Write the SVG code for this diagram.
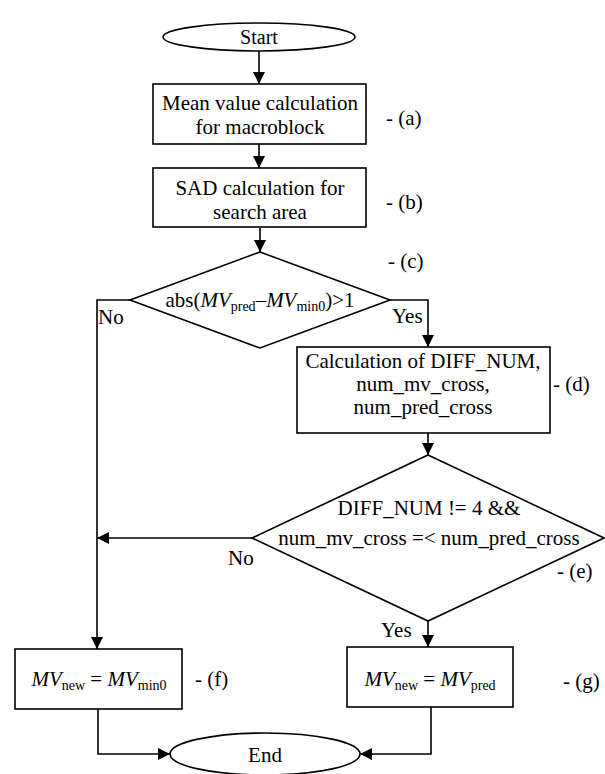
<svg xmlns="http://www.w3.org/2000/svg" width="605" height="774" viewBox="0 0 605 774">
<style>
.s{fill:#fff;stroke:#000;stroke-width:1.6}
.t{font-family:"Liberation Serif","Times New Roman",serif;font-size:21px;fill:#000}
.c{text-anchor:middle}
.i{font-style:italic}
.sub{font-size:14px}
.e{fill:none;stroke:#000;stroke-width:1.6}
</style>
<defs>
<marker id="ah" viewBox="0 0 12 12" refX="12" refY="6" markerWidth="12" markerHeight="13" markerUnits="userSpaceOnUse" orient="auto">
<path d="M0,0 L12,6 L0,12 z" fill="#000"/>
</marker>
</defs>
<rect width="605" height="774" fill="#fff"/>
<g id="connectors">
<path class="e" d="M259,51 V84" marker-end="url(#ah)"/>
<path class="e" d="M259,144 V168" marker-end="url(#ah)"/>
<path class="e" d="M260,228 V252" marker-end="url(#ah)"/>
<path class="e" d="M130,300 H97 V649" marker-end="url(#ah)"/>
<path class="e" d="M390,300 H428 V347" marker-end="url(#ah)"/>
<path class="e" d="M428,433 V455" marker-end="url(#ah)"/>
<path class="e" d="M252,538 H97" marker-end="url(#ah)"/>
<path class="e" d="M428,621 V647" marker-end="url(#ah)"/>
<path class="e" d="M98,709 V754 H170" marker-end="url(#ah)"/>
<path class="e" d="M431,707 V754 H360" marker-end="url(#ah)"/>
<text class="t" x="98" y="324">No</text>
<text class="t" x="392" y="323">Yes</text>
<text class="t" x="228" y="565">No</text>
<text class="t" x="381" y="637">Yes</text>
</g>
<g id="start">
<ellipse class="s" cx="259" cy="37" rx="96" ry="14"/>
<text class="t c" x="259" y="44" style="font-size:20px">Start</text>
</g>
<g id="a">
<rect class="s" x="153" y="84" width="213" height="60"/>
<text class="t c" x="260" y="110">Mean value calculation</text>
<text class="t c" x="260" y="134">for macroblock</text>
<text class="t" x="386" y="125">- (a)</text>
</g>
<g id="b">
<rect class="s" x="153" y="168" width="213" height="59"/>
<text class="t c" x="260" y="195">SAD calculation for</text>
<text class="t c" x="260" y="219">search area</text>
<text class="t" x="386" y="209">- (b)</text>
</g>
<g id="c">
<polygon class="s" points="260,252 390,300 260,348 130,300"/>
<text class="t c" x="260" y="307">abs(<tspan class="i">MV</tspan><tspan class="sub" dy="4">pred</tspan><tspan dy="-4">–</tspan><tspan class="i">MV</tspan><tspan class="sub" dy="4">min0</tspan><tspan dy="-4">)&gt;1</tspan></text>
<text class="t" x="388" y="268">- (c)</text>
</g>
<g id="d">
<rect class="s" x="297" y="347" width="253" height="86"/>
<text class="t c" x="423" y="368">Calculation of DIFF_NUM,</text>
<text class="t c" x="423" y="391">num_mv_cross,</text>
<text class="t c" x="423" y="414">num_pred_cross</text>
<text class="t" x="553" y="391">- (d)</text>
</g>
<g id="e">
<polygon class="s" points="428,455 604,538 428,621 252,538"/>
<text class="t c" x="429" y="515">DIFF_NUM != 4 &amp;&amp;</text>
<text class="t c" x="429" y="545">num_mv_cross =&lt; num_pred_cross</text>
<text class="t" x="557" y="578">- (e)</text>
</g>
<g id="f">
<rect class="s" x="15" y="649" width="167" height="60"/>
<text class="t c" x="99" y="686"><tspan class="i">MV</tspan><tspan class="sub" dy="4">new</tspan><tspan dy="-4"> = </tspan><tspan class="i">MV</tspan><tspan class="sub" dy="4">min0</tspan></text>
<text class="t" x="195" y="686">- (f)</text>
</g>
<g id="g">
<rect class="s" x="347" y="647" width="166" height="60"/>
<text class="t c" x="430" y="686"><tspan class="i">MV</tspan><tspan class="sub" dy="4">new</tspan><tspan dy="-4"> = </tspan><tspan class="i">MV</tspan><tspan class="sub" dy="4">pred</tspan></text>
<text class="t" x="563" y="688">- (g)</text>
</g>
<g id="end">
<ellipse class="s" cx="265" cy="754" rx="95" ry="21"/>
<text class="t c" x="265" y="762">End</text>
</g>
</svg>
